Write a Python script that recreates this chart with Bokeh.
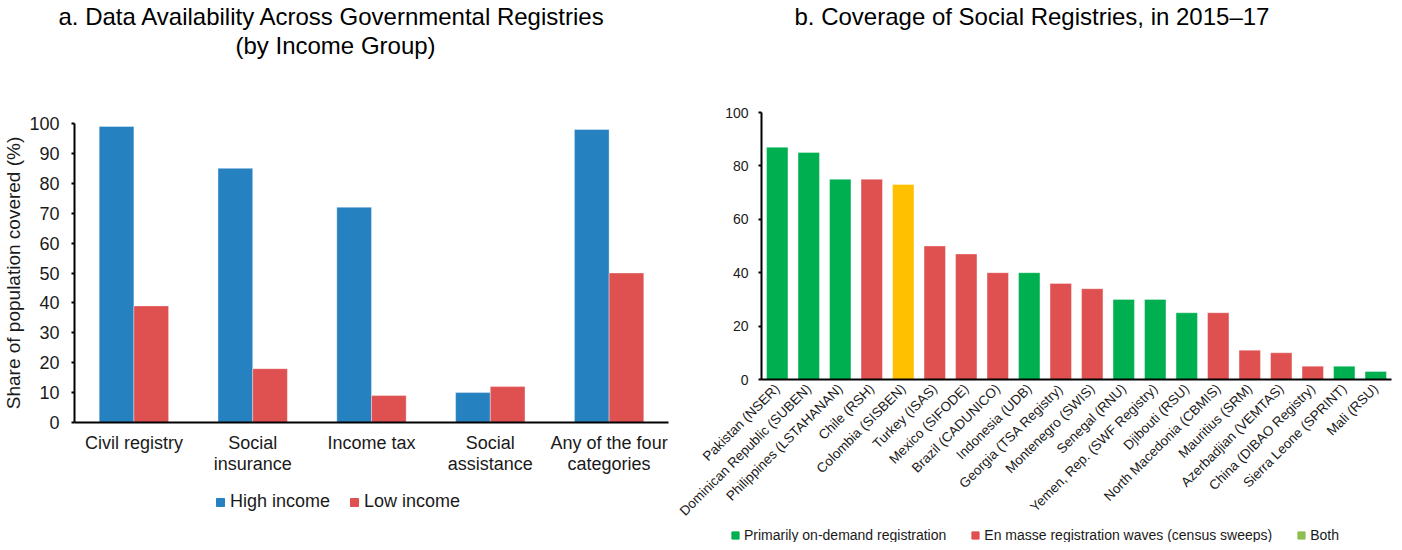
from math import pi
from bokeh.plotting import figure
from bokeh.models import (Legend, LegendItem, Title, FactorRange, Range1d,
                          ColumnDataSource, SingleIntervalTicker)
from bokeh.transform import dodge
from bokeh.layouts import row, column
from bokeh.embed import file_html
from bokeh.resources import INLINE

# ---------------- data ----------------
# Panel a
categories_a = ["Civil registry", "Social\ninsurance", "Income tax",
                "Social\nassistance", "Any of the four\ncategories"]
high_income = [99, 85, 72, 10, 98]
low_income = [39, 18, 9, 12, 50]
series_a = ["High income", "Low income"]

# Panel b
registries = ["Pakistan (NSER)", "Dominican Republic (SUBEN)", "Philippines (LSTAHANAN)",
              "Chile (RSH)", "Colombia (SISBEN)", "Turkey (ISAS)", "Mexico (SIFODE)",
              "Brazil (CADUNICO)", "Indonesia (UDB)", "Georgia (TSA Registry)",
              "Montenegro (SWIS)", "Senegal (RNU)", "Yemen, Rep. (SWF Registry)",
              "Djibouti (RSU)", "North Macedonia (CBMIS)", "Mauritius (SRM)",
              "Azerbadjian (VEMTAS)", "China (DIBAO Registry)", "Sierra Leone (SPRINT)",
              "Mali (RSU)"]
coverage = [87, 85, 75, 75, 73, 50, 47, 40, 40, 36, 34, 30, 30, 25, 25, 11, 10, 5, 5, 3]
reg_type = ["on-demand", "on-demand", "on-demand", "en masse", "both", "en masse",
            "en masse", "en masse", "on-demand", "en masse", "en masse", "on-demand",
            "on-demand", "on-demand", "en masse", "en masse", "en masse", "en masse",
            "on-demand", "on-demand"]
legend_b = ["Primarily on-demand registration",
            "En masse registration waves (census sweeps)", "Both"]

# ---------------- styles ----------------
FONT = "Liberation Sans"
TXT = "#1a1a1a"
BLUE = "#2681C0"
RED = "#DF5050"
GREEN = "#00B050"
YELLOW = "#FFC000"
LGREEN = "#8EBE4F"
bar_color = {"on-demand": GREEN, "en masse": RED, "both": YELLOW}
legend_color_b = [GREEN, RED, LGREEN]


def style_axes(p, tick_size):
    for ax in (p.xaxis[0], p.yaxis[0]):
        ax.axis_line_color = "black"
        ax.axis_line_width = 2
        ax.major_tick_line_color = "black"
        ax.major_tick_line_width = 2
        ax.minor_tick_line_color = None
        ax.major_label_text_font = FONT
        ax.major_label_text_color = TXT
        ax.major_label_text_font_size = tick_size
    p.xaxis.major_tick_out = 0
    p.xaxis.major_tick_in = 0
    p.yaxis.major_tick_out = 3
    p.yaxis.major_tick_in = 0
    p.xgrid.visible = False
    p.ygrid.visible = False
    p.outline_line_color = None
    p.background_fill_color = "white"
    p.border_fill_color = "white"


def title(text, offset, standoff, size="24px"):
    return Title(text=text, align="left", offset=offset, text_font=FONT,
                 text_font_size=size, text_font_style="normal", text_color="black",
                 standoff=standoff)


def legend_fig(width, height):
    f = figure(width=width, height=height, x_range=Range1d(0, width),
               y_range=Range1d(0, height), output_backend="svg", toolbar_location=None,
               title=None, x_axis_type=None, y_axis_type=None, min_border=0)
    f.xgrid.visible = False
    f.ygrid.visible = False
    f.outline_line_color = None
    return f


def legend_swatch(f, color):
    # a single off-range point, only used to draw the legend swatch
    return f.scatter([-1000], [-1000], marker="square", fill_color=color, line_color=color)


# ---------------- panel a ----------------
src_a = ColumnDataSource(dict(cat=categories_a, high=high_income, low=low_income))
pa = figure(width=678, height=484, x_range=FactorRange(*categories_a),
            y_range=Range1d(0, 100), output_backend="svg", toolbar_location=None,
            title=None, min_border_left=69, min_border_right=10,
            min_border_top=0, min_border_bottom=62)
pa.vbar(x=dodge("cat", -0.146, range=pa.x_range), top="high", width=0.292,
        source=src_a, fill_color=BLUE, line_color="white", line_width=0.6, line_alpha=0.6)
pa.vbar(x=dodge("cat", 0.146, range=pa.x_range), top="low", width=0.292,
        source=src_a, fill_color=RED, line_color="white", line_width=0.6, line_alpha=0.6)
style_axes(pa, "18px")
pa.yaxis.ticker = SingleIntervalTicker(interval=10, num_minor_ticks=0)
pa.yaxis.major_label_standoff = 12
pa.xaxis.major_label_standoff = 10
pa.xaxis.major_label_text_line_height = 1.05
pa.yaxis.axis_label = "Share of population covered (%)"
pa.yaxis.axis_label_text_font = FONT
pa.yaxis.axis_label_text_font_size = "19px"
pa.yaxis.axis_label_text_font_style = "normal"
pa.yaxis.axis_label_text_color = TXT
pa.yaxis.axis_label_standoff = 2

# titles (added innermost first): spacer, line 2, line 1
pa.add_layout(title(" ", 0, 36), "above")
pa.add_layout(title("(by Income Group)", 161, 0), "above")
pa.add_layout(title("a. Data Availability Across Governmental Registries", -16, 0), "above")

# legend a (own strip under panel a)
lfa = legend_fig(670, 58)
la = [legend_swatch(lfa, c) for c in (BLUE, RED)]
leg_a = Legend(items=[LegendItem(label=t, renderers=[r]) for t, r in zip(series_a, la)],
               orientation="horizontal", location=(136, 30), padding=0, margin=0,
               spacing=14, label_standoff=-4, glyph_width=20, glyph_height=20,
               label_height=0, label_width=0, border_line_alpha=0,
               background_fill_alpha=0, label_text_font=FONT,
               label_text_font_size="18px", label_text_color=TXT)
lfa.add_layout(leg_a, "center")

# ---------------- panel b ----------------
src_b = ColumnDataSource(dict(name=registries, cov=coverage,
                              color=[bar_color[t] for t in reg_type]))
pb = figure(width=716, height=528, x_range=FactorRange(*registries),
            y_range=Range1d(0, 100), output_backend="svg", toolbar_location=None,
            title=None, min_border_left=83, min_border_right=3,
            min_border_top=0, min_border_bottom=149)
pb.vbar(x="name", top="cov", width=0.68, source=src_b, fill_color="color",
        line_color="white", line_width=0.6, line_alpha=0.6)
style_axes(pb, "14px")
pb.xaxis.major_label_text_font_size = "13.5px"
pb.yaxis.ticker = SingleIntervalTicker(interval=20, num_minor_ticks=0)
pb.yaxis.major_label_standoff = 10
pb.xaxis.major_label_standoff = 7
pb.xaxis.major_label_orientation = pi / 4

pb.add_layout(title(" ", 0, 54), "above")
pb.add_layout(title("b. Coverage of Social Registries, in 2015\u201317", 33, 0), "above")

# legend b (own strip under panel b)
lfb = legend_fig(716, 14)
lb = [legend_swatch(lfb, c) for c in legend_color_b]
leg_b = Legend(items=[LegendItem(label=t, renderers=[r]) for t, r in zip(legend_b, lb)],
               orientation="horizontal", location=(48, -2), padding=0, margin=0,
               spacing=20, label_standoff=-3, glyph_width=18, glyph_height=18,
               label_height=0, label_width=0, border_line_alpha=0,
               background_fill_alpha=0, label_text_font=FONT,
               label_text_font_size="14px", label_text_color=TXT)
lfb.add_layout(leg_b, "center")

layout = row(column(pa, lfa), column(pb, row(lfb)))
open("out.html", "w").write(file_html(layout, INLINE))
